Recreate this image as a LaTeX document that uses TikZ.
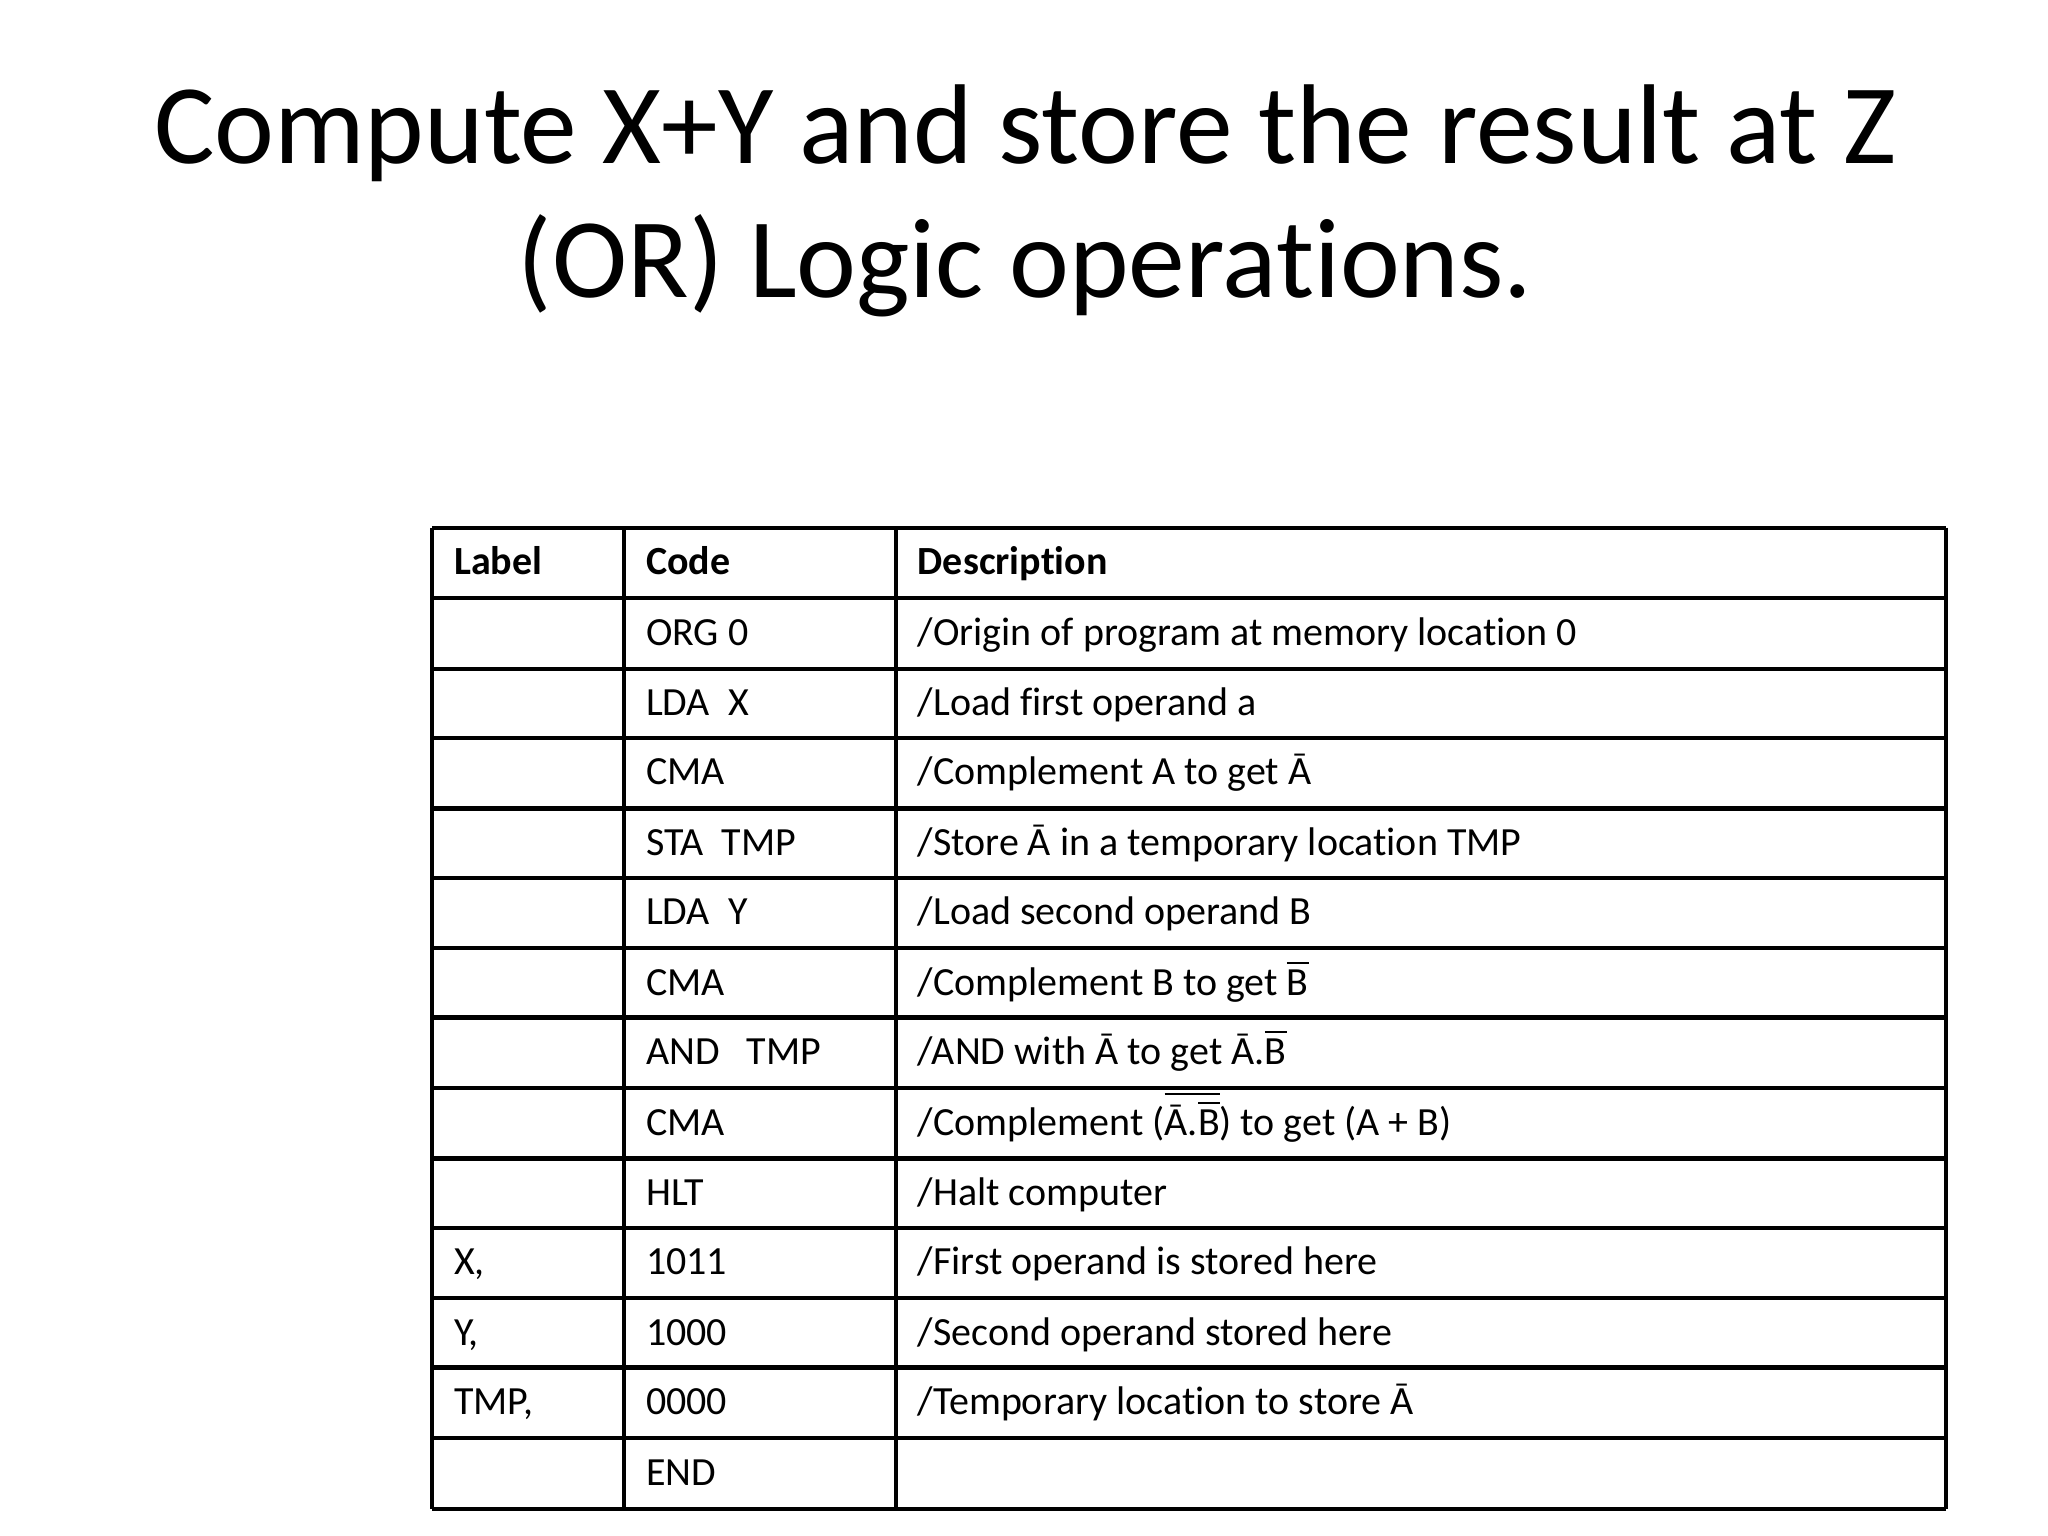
\documentclass[tikz,border=0pt]{standalone}
\usepackage{fontspec}
\setmainfont[Ligatures=NoCommon]{Carlito}
\newcommand{\Bbr}{$\overline{\mbox{B}}$}
\begin{document}
\begin{tikzpicture}[x=0.01cm,y=-0.01cm,
  cell/.style={anchor=west,font=\fontsize{8.7pt}{10pt}\selectfont,inner sep=0pt},
  hcell/.style={cell,font=\fontsize{8.7pt}{10pt}\selectfont\bfseries},
  title/.style={font=\fontsize{24.7pt}{30pt}\selectfont,inner sep=0pt}]
\useasboundingbox (0,0) rectangle (1568,1176);
\node[title,anchor=base] (t1) at (785,125) {Compute X+Y and store the result at Z};
\node[title,anchor=base] (t2) at (785,228) {(OR) Logic operations.};
\foreach \y in {404,458,512,565,619,672,726,779,833,887,940,994,1047,1101,1155}
  \draw[line width=0.9pt] (331,\y) -- (1490,\y);
\foreach \x in {331,478,686,1490}
  \draw[line width=0.9pt] (\x,404) -- (\x,1155);
\node[hcell,anchor=base west] (h1) at (347,440) {Label};
\node[hcell,anchor=base west] (h2) at (494,440) {Code};
\node[hcell,anchor=base west] (h3) at (702,440) {Description};
\foreach \n/\y/\c/\d in {
 1/494/{ORG 0}/{/Origin of program at memory location 0},
 2/548/{LDA\ \ X}/{/Load first operand a},
 3/601/{CMA}/{/Complement A to get Ā},
 4/655/{STA\ \ TMP}/{/Store Ā in a temporary location TMP},
 5/708/{LDA\ \ Y}/{/Load second operand B},
 6/762/{CMA}/{/Complement B to get \Bbr},
 7/815/{AND\ \ \ TMP}/{/AND with Ā to get Ā.\Bbr},
 8/869/{CMA}/{/Complement ($\overline{\mbox{Ā.\Bbr}}$) to get (A + B)},
 9/923/{HLT}/{/Halt computer},
 10/976/{1011}/{/First operand is stored here},
 11/1030/{1000}/{/Second operand stored here},
 12/1083/{0000}/{/Temporary location to store Ā},
 13/1137/{END}/{}}
{\node[cell,anchor=base west] (c\n) at (494,\y) {\c};
 \node[cell,anchor=base west] (d\n) at (702,\y) {\d};}
\node[cell,anchor=base west] (lx) at (347,976) {X,};
\node[cell,anchor=base west] (ly) at (347,1030) {Y,};
\node[cell,anchor=base west] (lt) at (347,1083) {TMP,};
\end{tikzpicture}
\end{document}
